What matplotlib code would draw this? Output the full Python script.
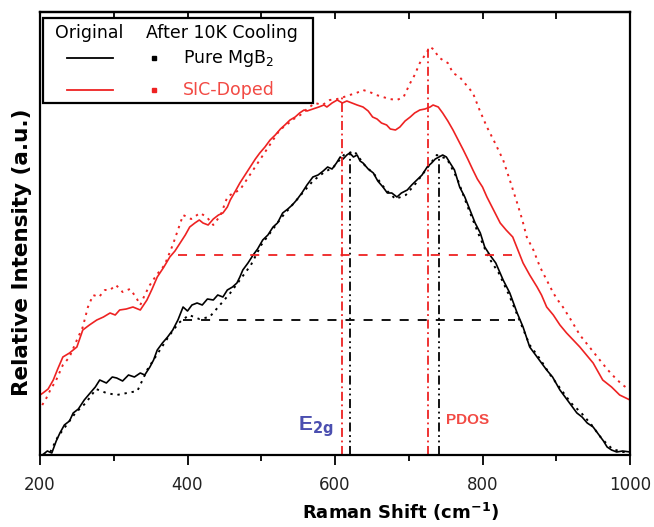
import matplotlib
matplotlib.use("Agg")
import matplotlib.pyplot as plt
from matplotlib.patches import Rectangle
from matplotlib.lines import Line2D

# ---- data ----
pure_orig_x = [203, 210, 216, 222, 227, 233, 240, 245, 252, 260, 268, 275, 281, 290, 298, 304, 312, 320, 328, 336, 342, 349, 354, 359, 366, 373, 380, 387, 394, 400, 406, 413, 420, 427, 435, 441, 448, 454, 461, 467, 471, 475, 482, 489, 495, 502, 509, 516, 522, 529, 536, 542, 548, 555, 562, 570, 577, 584, 590, 596, 602, 607, 611, 616, 620, 625, 630, 634, 638, 645, 652, 658, 665, 671, 677, 684, 690, 698, 704, 711, 718, 725, 731, 736, 741, 746, 751, 756, 762, 769, 776, 783, 790, 797, 803, 810, 818, 828, 837, 847, 855, 864, 872, 880, 887, 895, 905, 912, 920, 928, 935, 942, 950, 958, 964, 969, 975, 982, 990, 1000]
pure_orig_y = [0, 4, 2, 14, 22, 30, 34, 42, 46, 55, 62, 68, 75, 72, 78, 77, 74, 80, 78, 82, 80, 88, 95, 105, 112, 118, 125, 135, 148, 144, 150, 152, 150, 156, 155, 160, 158, 165, 168, 172, 178, 185, 192, 200, 206, 215, 220, 228, 232, 242, 246, 250, 255, 262, 270, 278, 280, 284, 288, 286, 292, 298, 296, 300, 302, 298, 300, 294, 292, 286, 282, 274, 268, 262, 262, 258, 262, 265, 270, 275, 280, 288, 292, 296, 298, 300, 298, 292, 285, 268, 258, 245, 232, 222, 208, 200, 192, 175, 162, 142, 128, 108, 100, 92, 85, 78, 65, 58, 50, 42, 38, 32, 28, 20, 14, 8, 5, 3, 4, 3]

pure_cool_x = [205, 214, 224, 236, 248, 262, 276, 290, 304, 318, 332, 346, 360, 374, 388, 402, 416, 430, 444, 458, 472, 486, 500, 514, 528, 542, 556, 570, 584, 598, 612, 626, 640, 654, 668, 682, 696, 710, 724, 738, 752, 766, 780, 794, 808, 822, 836, 850, 864, 878, 892, 906, 920, 934, 948, 962, 976, 990, 1000]
pure_cool_y = [0, 3, 18, 30, 42, 52, 66, 62, 60, 62, 64, 86, 102, 118, 132, 140, 136, 138, 150, 162, 176, 190, 210, 224, 238, 250, 262, 274, 282, 288, 300, 304, 290, 280, 266, 256, 260, 272, 286, 300, 296, 276, 248, 222, 198, 182, 160, 135, 110, 96, 80, 66, 52, 42, 30, 16, 6, 3, 3]

sic_orig_x = [200, 204, 211, 218, 224, 231, 240, 250, 258, 267, 277, 286, 295, 302, 308, 317, 326, 336, 345, 352, 359, 368, 376, 383, 390, 397, 403, 410, 416, 421, 428, 435, 442, 448, 454, 458, 465, 471, 478, 485, 492, 498, 505, 512, 519, 526, 532, 539, 546, 552, 558, 562, 570, 578, 585, 589, 596, 603, 610, 616, 623, 630, 638, 645, 651, 657, 663, 670, 675, 682, 688, 695, 702, 708, 715, 722, 729, 733, 740, 746, 753, 760, 767, 774, 780, 787, 793, 800, 806, 815, 824, 832, 841, 848, 855, 864, 874, 880, 887, 896, 905, 914, 923, 932, 941, 950, 963, 975, 986, 1000]
sic_orig_y = [60, 62, 66, 75, 86, 98, 102, 108, 125, 130, 135, 138, 142, 140, 145, 146, 148, 145, 155, 166, 178, 188, 198, 204, 212, 220, 228, 232, 235, 232, 230, 236, 240, 242, 248, 255, 264, 272, 280, 288, 296, 302, 308, 315, 320, 326, 330, 335, 338, 342, 345, 344, 346, 348, 350, 348, 352, 355, 352, 354, 352, 350, 348, 344, 338, 336, 332, 330, 326, 325, 328, 334, 338, 342, 345, 346, 348, 350, 348, 342, 334, 325, 315, 305, 296, 285, 276, 268, 258, 245, 232, 225, 218, 205, 192, 180, 168, 160, 148, 140, 130, 122, 115, 108, 100, 92, 75, 68, 60, 55]

sic_cool_x = [203, 208, 214, 222, 231, 240, 250, 258, 265, 272, 280, 288, 295, 303, 312, 322, 330, 336, 342, 349, 358, 369, 380, 394, 405, 417, 426, 435, 445, 454, 462, 471, 480, 489, 498, 507, 516, 525, 534, 544, 553, 562, 573, 583, 593, 603, 612, 620, 629, 638, 647, 656, 665, 674, 684, 693, 702, 708, 715, 722, 729, 735, 740, 746, 753, 760, 769, 778, 787, 796, 806, 817, 828, 837, 847, 854, 860, 869, 878, 887, 896, 902, 909, 920, 932, 945, 959, 970, 980, 990, 1000]
sic_cool_y = [50, 56, 65, 75, 90, 98, 115, 128, 148, 160, 158, 165, 165, 170, 163, 166, 158, 150, 160, 170, 180, 190, 210, 240, 236, 242, 238, 230, 240, 258, 262, 265, 275, 285, 295, 305, 315, 325, 330, 336, 340, 346, 352, 350, 355, 356, 358, 360, 362, 365, 363, 360, 358, 356, 355, 358, 372, 380, 392, 400, 408, 405, 398, 395, 392, 382, 378, 370, 362, 345, 328, 312, 295, 275, 252, 235, 218, 205, 188, 175, 162, 155, 148, 135, 120, 108, 95, 85, 77, 70, 65]

# reference guide lines: (x, top) for verticals, (y, xmin, xmax) for horizontals
e2g_red_x, e2g_red_top = 610, 360
e2g_blk_x, e2g_blk_top = 621, 305
pdos_red_x, pdos_red_top = 726, 408
pdos_blk_x, pdos_blk_top = 741, 300
half_red_y, half_red_x0, half_red_x1 = 200, 387, 851
half_blk_y, half_blk_x0, half_blk_x1 = 135, 394, 844

xticks = [200, 400, 600, 800, 1000]
xminor = [300, 500, 700, 900]

RED = "#ee2222"
LRED = "#f24a44"

fig = plt.figure(figsize=(6.54, 5.27), dpi=100)
ax = fig.add_axes([40 / 654, 72 / 527, 590 / 654, 443 / 527])

ax.plot(pure_orig_x, pure_orig_y, color="black", lw=1.2)
ax.plot(pure_cool_x, pure_cool_y, color="black", lw=1.4, ls=(0, (1.2, 2.5)))
ax.plot(sic_orig_x, sic_orig_y, color=RED, lw=1.2)
ax.plot(sic_cool_x, sic_cool_y, color=RED, lw=1.4, ls=(0, (1.2, 2.5)))

ax.plot([e2g_red_x, e2g_red_x], [0, e2g_red_top], color=RED, lw=1.3, ls=(0, (5, 2, 1, 2)))
ax.plot([e2g_blk_x, e2g_blk_x], [0, e2g_blk_top], color="black", lw=1.3, ls=(0, (5, 2, 1, 2, 1, 2)))
ax.plot([pdos_red_x, pdos_red_x], [0, pdos_red_top], color=RED, lw=1.3, ls=(0, (5, 2, 1, 2)))
ax.plot([pdos_blk_x, pdos_blk_x], [0, pdos_blk_top], color="black", lw=1.3, ls=(0, (5, 2, 1, 2, 1, 2)))
ax.plot([half_red_x0, half_red_x1], [half_red_y, half_red_y], color=RED, lw=1.3, ls=(0, (5, 5)))
ax.plot([half_blk_x0, half_blk_x1], [half_blk_y, half_blk_y], color="black", lw=1.3, ls=(0, (5, 5)))

ax.text(550, 16, r"E$_{\mathbf{2g}}$", color="#4b4fb0", fontsize=15, fontweight="bold",
        ha="left", va="bottom", family="Liberation Sans")
ax.text(751, 35, "PDOS", color=LRED, fontsize=11, fontweight="bold",
        ha="left", va="center", family="Liberation Sans")

ax.set_xlim(200, 1000)
ax.set_ylim(0, 443)
ax.set_xticks(xticks)
ax.set_xticks(xminor, minor=True)
ax.set_yticks([])
ax.tick_params(axis="x", which="major", direction="out", length=7, width=1.3,
               labelsize=12, top=False, pad=8)
ax.tick_params(axis="x", which="minor", direction="out", length=4, width=1.3, top=False)
for lab in ax.get_xticklabels():
    lab.set_family("DejaVu Sans")
    lab.set_color("#222222")
for sp in ax.spines.values():
    sp.set_linewidth(1.6)

# top axis: inward ticks, no labels
sec = ax.secondary_xaxis("top")
sec.set_xticks(xticks)
sec.set_xticks(xminor, minor=True)
sec.tick_params(axis="x", which="both", direction="in", length=5, width=1.3, labeltop=False)
sec.spines["top"].set_linewidth(1.6)

fig.text(401 / 654, 1 - 512 / 527, "Raman Shift (cm$^{\\mathbf{-1}}$)", fontsize=13,
         fontweight="bold", family="DejaVu Sans", ha="center", va="center")
fig.text(22 / 654, 1 - 252 / 527, "Relative Intensity (a.u.)", fontsize=15.5,
         fontweight="bold", family="DejaVu Sans", ha="center", va="center", rotation=90)

# legend box drawn in axes coordinates
tr = ax.transAxes
ax.add_patch(Rectangle((0.005, 0.795), 0.458, 0.191, transform=tr, fill=True,
                       lw=1.6, edgecolor="black", facecolor="white", zorder=5))
ax.text(0.025, 0.953, "Original", transform=tr, fontsize=12.5, va="center", ha="left", zorder=6)
ax.text(0.180, 0.953, "After 10K Cooling", transform=tr, fontsize=12.5, va="center", ha="left", zorder=6)
ax.add_line(Line2D([0.046, 0.124], [0.896, 0.896], transform=tr, color="black", lw=1.3, zorder=6))
ax.add_line(Line2D([0.046, 0.124], [0.824, 0.824], transform=tr, color=RED, lw=1.3, zorder=6))
ax.plot([0.193], [0.896], transform=tr, marker="s", ms=2.8, color="black", ls="none", zorder=6)
ax.plot([0.193], [0.824], transform=tr, marker="s", ms=2.2, color=RED, ls="none", zorder=6)
ax.text(0.242, 0.896, "Pure MgB$_2$", transform=tr, fontsize=12.5, va="center", ha="left", zorder=6)
ax.text(0.242, 0.824, "SIC-Doped", transform=tr, fontsize=12.5, va="center", ha="left",
        color=LRED, zorder=6)

fig.savefig("out.png", dpi=100)
